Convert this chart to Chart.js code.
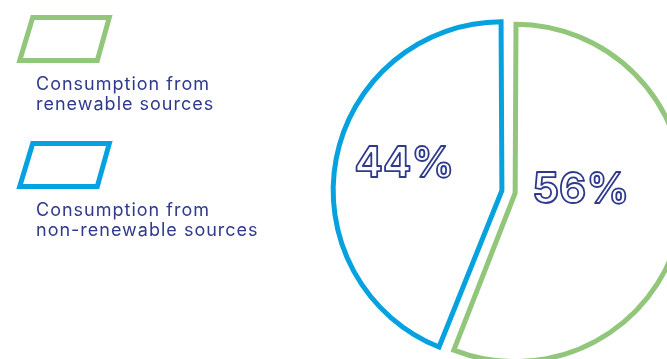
<!DOCTYPE html>
<html>
<head>
<meta charset="utf-8">
<script src="https://cdn.jsdelivr.net/npm/chart.js@4.4.1/dist/chart.umd.min.js"></script>
<style>
  html, body { margin: 0; padding: 0; background: #fff; overflow: hidden; }
  #wrap { position: absolute; left: 0; top: 0; width: 720px; height: 400px; }
</style>
</head>
<body>
<div id="wrap"><canvas id="canvasEnergy" width="720" height="400"></canvas></div>
<script>
"use strict";

// data
var categories = [
	["Consumption from", "renewable sources"],
	["Consumption from", "non-renewable sources"]
];
var shares = [56, 44];
var percentLabels = ["56%", "44%"];

var sliceColors = ["#92c67b", "#06a2e0"];
var navy = "#2f3a8d";

// legend drawn on the canvas: parallelogram box and two lines of text
var legendPlugin = {
	id: "sideLegend",
	afterDraw: function (chart) {
		var ctx = chart.ctx;
		var colors = chart.data.datasets[0].borderColor;
		ctx.save();
		chart.data.labels.forEach(function (label, i) {
			var y0 = 17.5 + i * 126;
			ctx.beginPath();
			ctx.moveTo(32.7, y0);
			ctx.lineTo(109.3, y0);
			ctx.lineTo(97.3, y0 + 43);
			ctx.lineTo(19.7, y0 + 43);
			ctx.closePath();
			ctx.lineWidth = 5;
			ctx.lineJoin = "miter";
			ctx.strokeStyle = colors[i];
			ctx.stroke();

			ctx.fillStyle = navy;
			ctx.font = "18px Inter";
			ctx.letterSpacing = "1px";
			ctx.textAlign = "left";
			ctx.textBaseline = "alphabetic";
			label.forEach(function (line, j) {
				ctx.fillText(line, 36, 90 + i * 126 + j * 19.5);
			});
		});
		ctx.restore();
	}
};

// outlined percentage inside each slice
var percentPlugin = {
	id: "percentText",
	afterDatasetsDraw: function (chart) {
		var ctx = chart.ctx;
		var meta = chart.getDatasetMeta(0);
		ctx.save();
		ctx.font = "bold 42px Inter";
		ctx.textAlign = "center";
		ctx.textBaseline = "middle";
		ctx.lineWidth = 1.8;
		ctx.lineJoin = "round";
		ctx.strokeStyle = navy;
		ctx.fillStyle = "#ffffff";
		meta.data.forEach(function (arc, i) {
			var mid = (arc.startAngle + arc.endAngle) / 2 - 0.042;
			var r = arc.outerRadius * 0.545;
			var x = arc.x + Math.cos(mid) * r - 17.5;
			var y = arc.y + Math.sin(mid) * r - 15;
			ctx.fillText(percentLabels[i], x, y);
			ctx.strokeText(percentLabels[i], x, y);
		});
		ctx.restore();
	}
};

const context = document.getElementById("canvasEnergy");
const energyChart = new Chart(context, {
	type: "pie",
	data: {
		labels: categories,
		datasets: [{
			data: shares,
			backgroundColor: "#ffffff",
			borderColor: sliceColors,
			borderWidth: 5,
			hoverBorderWidth: 5,
			borderJoinStyle: "miter",
			offset: [21, 33],
			hoverOffset: 0
		}]
	},
	options: {
		responsive: false,
		animation: false,
		events: [],
		layout: {
			padding: { left: 327.5, top: 9.5, right: 27.5, bottom: 25.5 }
		},
		plugins: {
			legend: { display: false },
			tooltip: { enabled: false }
		}
	},
	plugins: [legendPlugin, percentPlugin]
});
</script>
</body>
</html>
